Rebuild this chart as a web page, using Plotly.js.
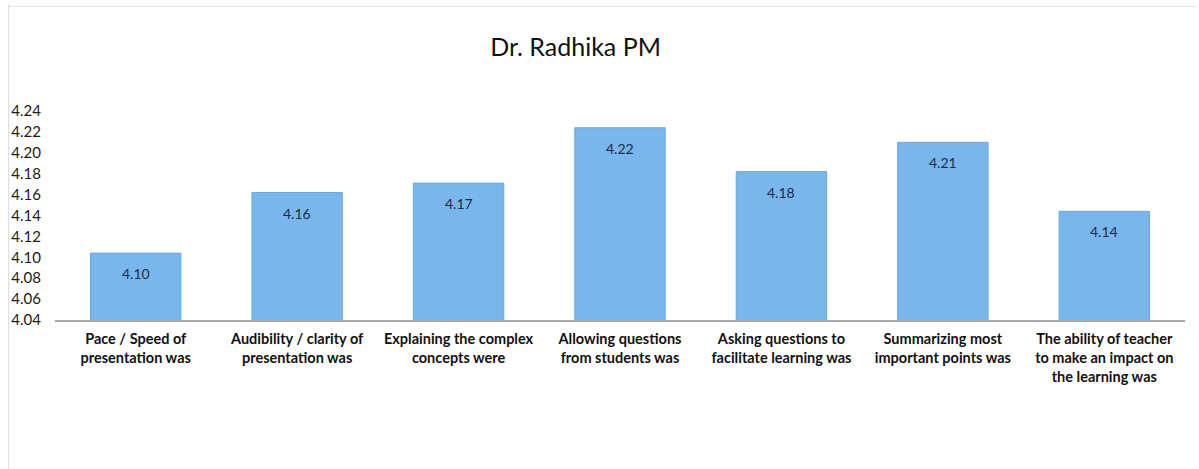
<!DOCTYPE html>
<html>
<head>
<meta charset="utf-8">
<script src="https://cdn.plot.ly/plotly-3.0.1.min.js"></script>
<style>html,body{margin:0;padding:0;background:#fff;}#chart{width:1199px;height:469px;}</style>
</head>
<body>
<div id="chart"></div>
<script>
const categories = [
  "Pace / Speed of<br>presentation was",
  "Audibility / clarity of<br>presentation was",
  "Explaining the complex<br>concepts were",
  "Allowing questions<br>from students was",
  "Asking questions to<br>facilitate learning was",
  "Summarizing most<br>important points was",
  "The ability of teacher<br>to make an impact on<br>the learning was"
];
const scores = [4.104, 4.162, 4.171, 4.224, 4.182, 4.210, 4.144];
const yTicks = [4.04, 4.06, 4.08, 4.10, 4.12, 4.14, 4.16, 4.18, 4.20, 4.22, 4.24];

const trace = {
  type: 'bar',
  x: categories,
  y: scores,
  marker: {color: '#78b6ec', line: {color: '#6aa9e3', width: 1}},
  hoverinfo: 'x+y'
};

const valueLabels = categories.map((c, i) => ({
  x: c, y: scores[i], xref: 'x', yref: 'y',
  text: scores[i].toFixed(2), showarrow: false,
  yanchor: 'top', yshift: -10,
  font: {family: 'Lato, "Open Sans", sans-serif', size: 14, color: '#1c2a4a'}
}));

const layout = {
  width: 1199, height: 469,
  margin: {l: 55, r: 14, t: 111, b: 149},
  paper_bgcolor: '#ffffff',
  plot_bgcolor: '#ffffff',
  bargap: 0.44,
  showlegend: false,
  title: {text: 'Dr. Radhika PM', x: 0.48, xanchor: 'center', y: 0.9, yanchor: 'middle',
          font: {family: 'Lato, "Open Sans", sans-serif', size: 25, color: '#111111'}},
  xaxis: {
    showline: true, linecolor: '#a8a8a8', linewidth: 2,
    ticks: '', ticklabelstandoff: 5,
    tickfont: {family: 'Lato, "Open Sans", sans-serif', size: 14.5, color: '#111111', weight: 'bold'},
    tickangle: 0, automargin: false
  },
  yaxis: {
    range: [4.04, 4.24], tickvals: yTicks, ticktext: yTicks.map(v => v.toFixed(2)),
    showgrid: false, zeroline: false, showline: false, ticks: '',
    ticklabelstandoff: 13,
    tickfont: {family: 'Lato, "Open Sans", sans-serif', size: 15, color: '#1a1a1a'},
    automargin: false
  },
  annotations: valueLabels,
  shapes: [
    {type: 'line', xref: 'paper', yref: 'paper', x0: -0.041, x1: -0.041, y0: -0.75, y1: 1.51, line: {color: '#d6dbe3', width: 1}},
    {type: 'line', xref: 'paper', yref: 'paper', x0: -0.041, x1: 1.01, y0: 1.5, y1: 1.5, line: {color: '#e2e5ea', width: 1}}
  ]
};

Plotly.newPlot('chart', [trace], layout, {displayModeBar: false, staticPlot: true});
</script>
</body>
</html>
